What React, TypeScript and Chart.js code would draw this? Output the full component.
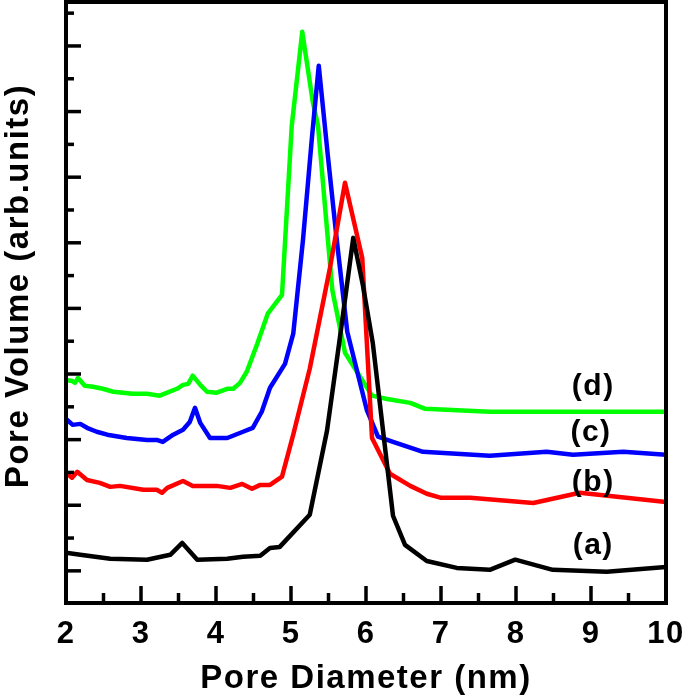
import React, { useEffect, useRef } from "react";
import { Chart, registerables } from "chart.js";

Chart.register(...registerables);

const FONT = '"Liberation Sans", Arial, sans-serif';

// Pore diameter (nm) and pore volume (arb. units) for each sample
const xA = [2.0, 2.19, 2.59, 3.08, 3.39, 3.55, 3.75, 4.15, 4.36, 4.59, 4.72, 4.85, 5.25, 5.48, 5.65, 5.83, 5.96, 6.09, 6.36, 6.52, 6.81, 7.21, 7.65, 7.99, 8.49, 9.21, 10.0];
const yA = [0.55, 0.49, 0.37, 0.34, 0.49, 0.85, 0.34, 0.37, 0.43, 0.46, 0.7, 0.73, 1.71, 4.27, 7.07, 10.15, 8.69, 6.95, 1.68, 0.79, 0.3, 0.09, 0.03, 0.34, 0.03, -0.03, 0.12];

const xB = [2.0, 2.08, 2.15, 2.28, 2.45, 2.59, 2.72, 3.03, 3.21, 3.28, 3.35, 3.56, 3.69, 4.01, 4.19, 4.35, 4.48, 4.59, 4.72, 4.88, 5.03, 5.25, 5.52, 5.72, 5.95, 6.08, 6.32, 6.59, 6.81, 6.99, 7.39, 8.23, 8.85, 10.0];
const yB = [2.99, 2.84, 3.02, 2.77, 2.68, 2.56, 2.59, 2.47, 2.47, 2.38, 2.53, 2.74, 2.59, 2.59, 2.53, 2.65, 2.5, 2.62, 2.62, 2.87, 4.15, 6.16, 9.24, 11.83, 9.54, 4.05, 2.96, 2.59, 2.35, 2.23, 2.23, 2.07, 2.38, 2.1];

const xC = [2.0, 2.09, 2.19, 2.28, 2.41, 2.55, 2.81, 3.08, 3.21, 3.29, 3.43, 3.56, 3.65, 3.72, 3.79, 3.92, 4.15, 4.36, 4.49, 4.61, 4.72, 4.92, 5.03, 5.16, 5.28, 5.37, 5.49, 5.61, 5.75, 6.01, 6.16, 6.36, 6.76, 7.65, 8.41, 8.76, 9.43, 10.0];
const yC = [4.63, 4.45, 4.48, 4.36, 4.24, 4.15, 4.05, 3.99, 3.99, 3.93, 4.15, 4.3, 4.54, 4.97, 4.51, 4.05, 4.05, 4.24, 4.36, 4.85, 5.58, 6.31, 7.23, 10.09, 13.23, 15.4, 12.68, 10.09, 7.29, 4.91, 4.09, 3.93, 3.63, 3.51, 3.63, 3.54, 3.63, 3.54];

const xD = [2.0, 2.08, 2.12, 2.16, 2.25, 2.36, 2.49, 2.63, 2.89, 3.08, 3.25, 3.35, 3.48, 3.56, 3.63, 3.69, 3.79, 3.88, 4.01, 4.15, 4.23, 4.32, 4.41, 4.55, 4.69, 4.88, 5.01, 5.15, 5.29, 5.36, 5.55, 5.72, 6.08, 6.28, 6.59, 6.79, 7.65, 8.85, 10.0];
const yD = [5.82, 5.79, 5.73, 5.88, 5.64, 5.61, 5.55, 5.46, 5.4, 5.4, 5.34, 5.43, 5.55, 5.67, 5.7, 5.95, 5.67, 5.46, 5.43, 5.55, 5.55, 5.73, 6.07, 6.92, 7.84, 8.41, 13.57, 16.43, 14.3, 13.57, 8.57, 6.65, 5.34, 5.24, 5.12, 4.94, 4.85, 4.85, 4.85];

const seriesColors = ["#000000", "#ff0000", "#0000ff", "#00ff00"];
const curveLabels = ["(a)", "(b)", "(c)", "(d)"];
const curveLabelX = [9.03, 9.03, 9.0, 9.03];
const curveLabelY = [0.78, 2.7, 4.2, 5.6];

const xMajorTicks = [2, 3, 4, 5, 6, 7, 8, 9, 10];
const xMinorTicks = [2.5, 3.5, 4.5, 5.5, 6.5, 7.5, 8.5, 9.5];
const yMajorTicks = [0, 2, 4, 6, 8, 10, 12, 14, 16];
const yMinorTicks = [1, 3, 5, 7, 9, 11, 13, 15, 17];

const toPoints = (xs: number[], ys: number[]) => xs.map((x, i) => ({ x, y: ys[i] }));

const decorPlugin = {
  id: "decor",
  beforeDraw(chart: any) {
    chart.ctx.letterSpacing = "1.5px";
  },
  afterDraw(chart: any) {
    const { ctx, chartArea, scales } = chart;
    const xs = scales.x;
    const ys = scales.y;
    ctx.save();
    ctx.strokeStyle = "#000";
    ctx.lineCap = "butt";
    ctx.lineWidth = 3.5;
    const drawX = (v: number, len: number) => {
      const px = xs.getPixelForValue(v);
      ctx.beginPath();
      ctx.moveTo(px, chartArea.bottom);
      ctx.lineTo(px, chartArea.bottom - len);
      ctx.stroke();
    };
    const drawY = (v: number, len: number) => {
      const py = ys.getPixelForValue(v);
      ctx.beginPath();
      ctx.moveTo(chartArea.left, py);
      ctx.lineTo(chartArea.left + len, py);
      ctx.stroke();
    };
    xMajorTicks.forEach((v) => drawX(v, 17));
    xMinorTicks.forEach((v) => drawX(v, 10));
    yMajorTicks.forEach((v) => drawY(v, 15));
    yMinorTicks.forEach((v) => drawY(v, 8));
    ctx.lineWidth = 4;
    ctx.strokeRect(chartArea.left, chartArea.top, chartArea.right - chartArea.left, chartArea.bottom - chartArea.top);
    ctx.fillStyle = "#000";
    ctx.letterSpacing = "1.5px";
    ctx.font = `bold 30px ${FONT}`;
    ctx.textAlign = "center";
    ctx.textBaseline = "middle";
    curveLabels.forEach((t, i) => {
      ctx.fillText(t, xs.getPixelForValue(curveLabelX[i]), ys.getPixelForValue(curveLabelY[i]));
    });
    ctx.font = `bold 33px ${FONT}`;
    ctx.translate(19, 286);
    ctx.rotate(-Math.PI / 2);
    ctx.fillText("Pore Volume (arb.units)", 0, 0);
    ctx.restore();
  },
};

export default function App() {
  const ref = useRef<HTMLCanvasElement | null>(null);
  useEffect(() => {
    document.body.style.margin = "0";
    const canvas = ref.current;
    if (!canvas) return;
    const chart = new Chart(canvas, {
      type: "line",
      data: {
        datasets: [
          { label: "(a)", data: toPoints(xA, yA) },
          { label: "(b)", data: toPoints(xB, yB) },
          { label: "(c)", data: toPoints(xC, yC) },
          { label: "(d)", data: toPoints(xD, yD) },
        ].map((d, i) => ({
          ...d,
          borderColor: seriesColors[i],
          backgroundColor: seriesColors[i],
          borderWidth: 4.5,
          pointRadius: 0,
          tension: 0,
          fill: false,
          borderJoinStyle: "round" as const,
        })),
      },
      options: {
        animation: false,
        responsive: false,
        devicePixelRatio: 1,
        layout: { padding: { top: 2, right: 19, left: 0, bottom: 0 } },
        plugins: { legend: { display: false }, tooltip: { enabled: false } },
        scales: {
          x: {
            type: "linear",
            min: 2,
            max: 10,
            grid: { display: false, drawTicks: false, tickLength: 0 },
            border: { display: false },
            ticks: {
              stepSize: 1,
              padding: 13,
              color: "#000",
              font: { family: FONT, size: 31, weight: "bold" },
              maxRotation: 0,
              autoSkip: false,
            },
            title: {
              display: true,
              text: "Pore Diameter (nm)",
              color: "#000",
              font: { family: FONT, size: 33, weight: "bold" },
              padding: { top: 0, bottom: 0 },
            },
            afterFit: (s: any) => {
              s.height = 96;
              s.paddingLeft = 0;
              s.paddingRight = 0;
            },
          },
          y: {
            type: "linear",
            min: -0.98,
            max: 17.34,
            grid: { display: false, drawTicks: false },
            border: { display: false },
            ticks: { display: false },
            afterFit: (s: any) => {
              s.width = 66;
              s.paddingTop = 0;
              s.paddingBottom = 0;
            },
          },
        },
      },
      plugins: [decorPlugin],
    });
    return () => chart.destroy();
  }, []);
  return (
    <div style={{ width: 685, height: 699 }}>
      <canvas ref={ref} width={685} height={699} style={{ display: "block" }} />
    </div>
  );
}
